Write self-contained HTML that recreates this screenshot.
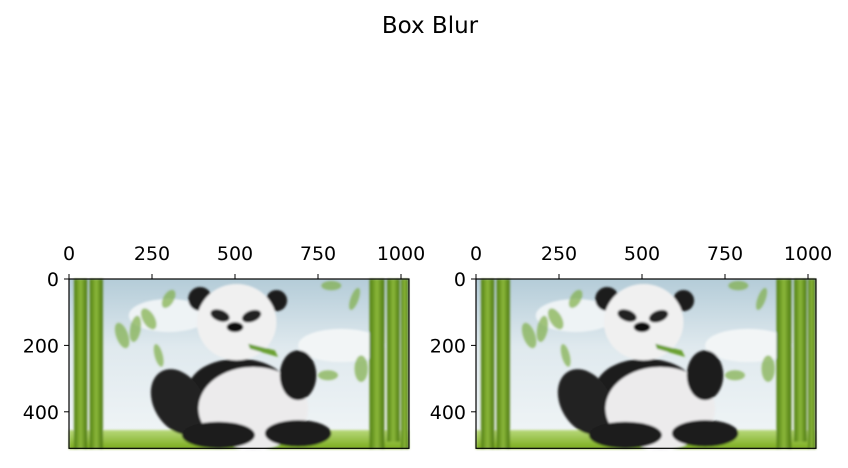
<!DOCTYPE html>
<html><head><meta charset="utf-8"><style>
body{margin:0;background:#fff;}
svg text{font-family:"DejaVu Sans","Liberation Sans",sans-serif;fill:#000;}
</style></head><body>
<svg width="848" height="463" viewBox="0 0 848 463">
<defs>
<filter id="bl" x="-20%" y="-20%" width="140%" height="140%"><feGaussianBlur stdDeviation="3"/></filter>
<linearGradient id="sky" x1="0" y1="0" x2="0" y2="1"><stop offset="0" stop-color="#b4ccd8"/><stop offset="0.4" stop-color="#dfe9ee"/><stop offset="1" stop-color="#f2f6f7"/></linearGradient>
<linearGradient id="grass" x1="0" y1="0" x2="0" y2="1"><stop offset="0" stop-color="#b8d87a"/><stop offset="1" stop-color="#7aac1c"/></linearGradient>
<linearGradient id="bam" x1="0" y1="0" x2="1" y2="0"><stop offset="0" stop-color="#4f7d12"/><stop offset="0.5" stop-color="#8cb83a"/><stop offset="1" stop-color="#4a7610"/></linearGradient>
<g id="panda">
<rect x="0" y="0" width="1024" height="512" fill="url(#sky)"/>
<g filter="url(#bl)">
<ellipse cx="300" cy="110" rx="120" ry="50" fill="#eef3f5"/>
<ellipse cx="820" cy="200" rx="130" ry="50" fill="#f2f5f6"/>
<g fill="#7fae45" opacity="0.7">
<ellipse cx="160" cy="170" rx="18" ry="40" transform="rotate(-20 160 170)"/>
<ellipse cx="200" cy="150" rx="16" ry="40" transform="rotate(10 200 150)"/>
<ellipse cx="240" cy="120" rx="18" ry="35" transform="rotate(-30 240 120)"/>
<ellipse cx="300" cy="60" rx="16" ry="30" transform="rotate(30 300 60)"/>
<ellipse cx="270" cy="230" rx="12" ry="35" transform="rotate(-15 270 230)"/>
<ellipse cx="790" cy="20" rx="30" ry="14"/>
<ellipse cx="860" cy="60" rx="12" ry="35" transform="rotate(20 860 60)"/>
<ellipse cx="780" cy="290" rx="30" ry="15"/>
<ellipse cx="880" cy="270" rx="20" ry="40"/>
</g>
<rect x="0" y="455" width="1024" height="57" fill="url(#grass)"/>
<rect x="15" y="0" width="40" height="512" fill="url(#bam)"/>
<rect x="62" y="0" width="40" height="512" fill="url(#bam)"/>
<rect x="905" y="0" width="45" height="512" fill="url(#bam)"/>
<rect x="958" y="0" width="38" height="490" fill="url(#bam)"/>
<rect x="1000" y="0" width="22" height="512" fill="url(#bam)"/>
<ellipse cx="510" cy="330" rx="150" ry="90" fill="#1e1e1e"/>
<ellipse cx="330" cy="370" rx="75" ry="105" fill="#222" transform="rotate(-30 330 370)"/>
<ellipse cx="555" cy="390" rx="165" ry="125" fill="#ecebec"/>
<ellipse cx="690" cy="290" rx="55" ry="75" fill="#1c1c1c"/>
<ellipse cx="450" cy="470" rx="110" ry="40" fill="#1a1a1a"/>
<ellipse cx="690" cy="465" rx="100" ry="40" fill="#1a1a1a"/>
<circle cx="395" cy="60" r="36" fill="#1c1c1c"/>
<circle cx="625" cy="65" r="32" fill="#1c1c1c"/>
<ellipse cx="505" cy="130" rx="120" ry="115" fill="#f0f0f0"/>
<ellipse cx="455" cy="110" rx="30" ry="17" fill="#222" transform="rotate(20 455 110)"/>
<ellipse cx="550" cy="112" rx="30" ry="17" fill="#222" transform="rotate(-20 550 112)"/>
<ellipse cx="500" cy="145" rx="25" ry="15" fill="#111"/>
<path d="M540 195 L620 215 L630 235 L545 210 Z" fill="#6aa030"/>
</g>
</g>
</defs>
<text x="430" y="33" font-size="23" text-anchor="middle">Box Blur</text>
<g id="axes"></g>
<script>
const xTicks=[0,250,500,750,1000];
const yTicks=[0,200,400];
const imgW=1024, imgH=510;
const panels=[{name:'left-image',x0:69},{name:'right-image',x0:476}];
const NS='http://www.w3.org/2000/svg';
const g=document.getElementById('axes');
const sc=0.332, y0=279;
function el(t,a){const e=document.createElementNS(NS,t);for(const k in a)e.setAttribute(k,a[k]);g.appendChild(e);return e;}
panels.forEach(p=>{
  const sx=v=>p.x0+v*sc, sy=v=>y0+v*sc;
  const u=el('use',{href:'#panda',transform:`translate(${p.x0},${y0}) scale(${sc})`});
  
  
  const fr=el('rect',{x:p.x0,y:y0,width:imgW*sc,height:imgH*sc,fill:'none',stroke:'#000','stroke-width':1.2});
  
  
  xTicks.forEach(v=>{
    el('line',{x1:sx(v),x2:sx(v),y1:y0,y2:y0-5,stroke:'#000'});
    const t=el('text',{x:sx(v),y:y0-19,'font-size':19,'text-anchor':'middle'});
    t.textContent=v;
    
    
  });
  yTicks.forEach(v=>{
    el('line',{x1:p.x0,x2:p.x0-5,y1:sy(v),y2:sy(v),stroke:'#000'});
    const t=el('text',{x:p.x0-10,y:sy(v)+7,'font-size':19,'text-anchor':'end'});
    t.textContent=v;
    
    
  });
});
</script>
</svg>
</body></html>
